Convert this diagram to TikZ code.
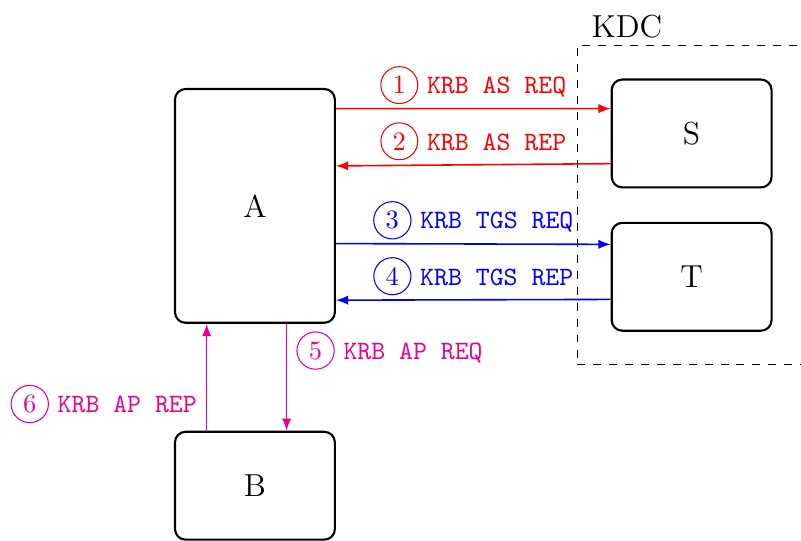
\documentclass[tikz,border=0pt]{standalone}
\usepackage{tikz}
\usetikzlibrary{arrows.meta,positioning,fit}
\definecolor{krbred}{HTML}{FF0000}
\definecolor{krbblue}{HTML}{0000FF}
\definecolor{krbpink}{HTML}{EC008C}
\newcommand{\msgno}[1]{\tikz[baseline=(mn.base)]\node[draw,circle,inner sep=2pt,font=\normalfont,anchor=center] (mn) {#1};\hspace{3.3pt}}
\tikzset{
  party/.style={draw,thick,rounded corners=4pt,minimum width=2.12cm,
                align=center,font=\large},
  kdcbox/.style={draw,dashed,inner sep=0.44cm},
  msg/.style={font=\ttfamily,inner sep=1.5pt},
  sidemsg/.style={font=\ttfamily,inner sep=3.5pt},
  redarr/.style={-latex,semithick,color=krbred},
  bluearr/.style={-latex,semithick,color=krbblue},
  pinkarr/.style={-latex,semithick,color=krbpink}
}

\begin{document}
\begin{tikzpicture}[x=1cm,y=1cm]
    \useasboundingbox (0,0) rectangle (10.62,7.17);

    \node[party,minimum height=3.10cm] (A) at (3.38,4.44) {A};
    \node[party,minimum height=1.43cm] (S) at (9.17,5.40) {S};
    \node[party,minimum height=1.43cm] (T) at (9.17,3.50) {T};
    \node[party,minimum height=1.43cm] (B) at (3.38,0.73) {B};

    % KDC
    \node[kdcbox,fit=(S) (T)] (kdc) {};
    \node[anchor=south west,font=\large,xshift=2pt,yshift=-1pt] (kdclabel) at (kdc.north west) {KDC};

    % AS
    \draw[redarr] ([yshift=1.29cm]A.east) --
      node[msg,above] {\msgno{1}KRB AS REQ} ([yshift=0.33cm]S.west);
    \draw[redarr] ([yshift=-0.40cm]S.west) --
      node[msg,above] {\msgno{2}KRB AS REP} ([yshift=0.53cm]A.east);

    % TGS
    \draw[bluearr] ([yshift=-0.50cm]A.east) --
      node[msg,above] {\msgno{3}KRB TGS REQ} ([yshift=0.43cm]T.west);
    \draw[bluearr] ([yshift=-0.30cm]T.west) --
      node[msg,above] {\msgno{4}KRB TGS REP} ([yshift=-1.25cm]A.east);

    % AP
    \draw[pinkarr] ([xshift=0.42cm]A.south) --
      node[sidemsg,right,pos=0.25] {\msgno{5}KRB AP REQ} ([xshift=0.42cm]B.north);
    \draw[pinkarr] ([xshift=-0.64cm]B.north) --
      node[sidemsg,left,pos=0.25] {\msgno{6}KRB AP REP} ([xshift=-0.64cm]A.south);
\end{tikzpicture}
\end{document}
